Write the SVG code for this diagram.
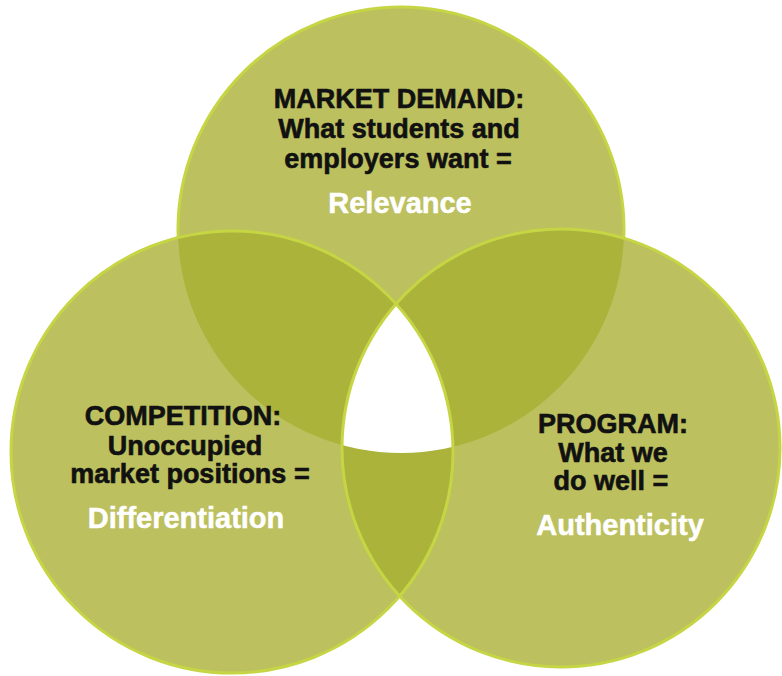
<svg xmlns="http://www.w3.org/2000/svg" width="782" height="676" viewBox="0 0 782 676">
  <style>
    .fill { fill: #bcc05e; }
    .dark { fill: #abb33b; }
    .rim { fill: none; stroke: #c5d544; stroke-width: 3; }
    .lbl { font-family: "Liberation Sans", Arial, sans-serif; font-weight: bold; text-anchor: middle; fill: #111111; stroke: #111111; stroke-width: 0.6; font-size: 27px; }
    .key { font-family: "Liberation Sans", Arial, sans-serif; font-weight: bold; text-anchor: middle; fill: #ffffff; stroke: #ffffff; stroke-width: 0.5; font-size: 29px; }
  </style>
  <defs>
    <circle id="cTop" cx="401" cy="230" r="223"/>
    <circle id="cLeft" cx="232" cy="452" r="221"/>
    <circle id="cRight" cx="561" cy="448" r="219"/>
    <clipPath id="clipTop"><use href="#cTop"/></clipPath>
    <clipPath id="clipLeft"><use href="#cLeft"/></clipPath>
    <clipPath id="clipRight"><use href="#cRight"/></clipPath>
  </defs>
  <rect width="782" height="676" fill="#ffffff"/>

  <g id="market-demand">
    <use href="#cTop" class="fill"/>
    <use href="#cTop" class="rim"/>
  </g>
  <g id="competition">
    <use href="#cLeft" class="fill"/>
  </g>
  <g id="program">
    <use href="#cRight" class="fill"/>
  </g>

  <g id="overlaps">
    <g clip-path="url(#clipTop)"><use href="#cLeft" class="dark"/></g>
    <g clip-path="url(#clipTop)"><use href="#cRight" class="dark"/></g>
    <g clip-path="url(#clipLeft)"><use href="#cRight" class="dark"/></g>
    <g clip-path="url(#clipTop)"><g clip-path="url(#clipLeft)"><use href="#cRight" fill="#ffffff"/></g></g>
  </g>

  <g id="rims">
    <use href="#cLeft" class="rim"/>
    <use href="#cRight" class="rim"/>
  </g>

  <g id="market-demand-text">
    <text class="lbl" x="399" y="108">MARKET DEMAND:</text>
    <text class="lbl" x="399" y="138">What students and</text>
    <text class="lbl" x="398" y="168">employers want =</text>
    <text class="key" x="400" y="213">Relevance</text>
  </g>
  <g id="competition-text">
    <text class="lbl" x="183" y="425">COMPETITION:</text>
    <text class="lbl" x="185" y="455">Unoccupied</text>
    <text class="lbl" x="190" y="483">market positions =</text>
    <text class="key" x="186" y="528">Differentiation</text>
  </g>
  <g id="program-text">
    <text class="lbl" x="613" y="433">PROGRAM:</text>
    <text class="lbl" x="613" y="462">What we</text>
    <text class="lbl" x="611" y="490">do well =</text>
    <text class="key" x="620" y="535">Authenticity</text>
  </g>
</svg>
